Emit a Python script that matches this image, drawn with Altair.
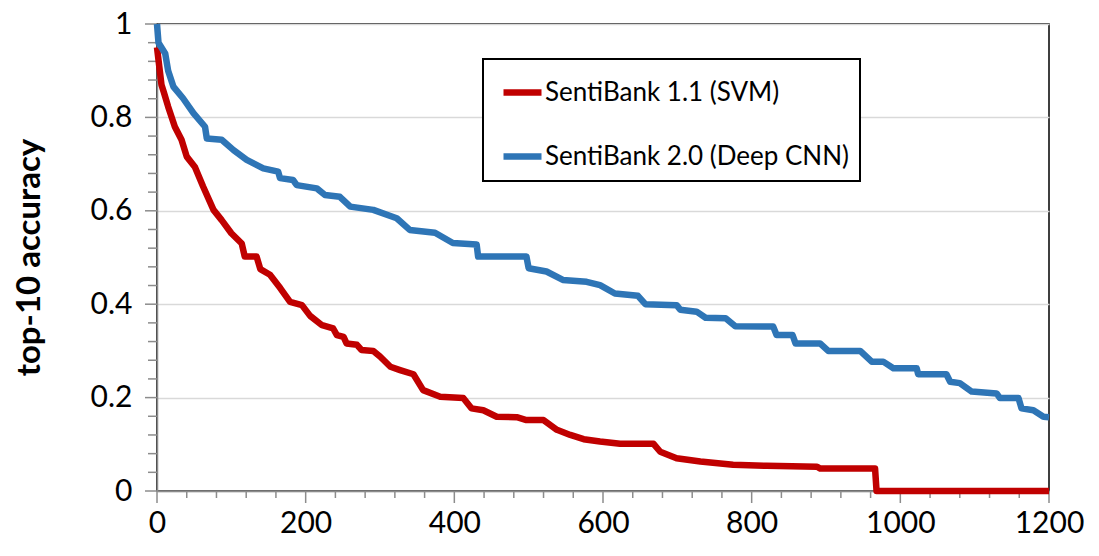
import altair as alt
import pandas as pd

# SentiBank 2.0 (Deep CNN)
blue_x = [0, 2, 11, 15, 22, 35, 49, 64.6, 67, 87, 103, 120.7, 143, 163, 165.5, 183, 188, 215, 226, 246,
          260, 291, 322.5, 340, 374, 398, 430, 432, 497, 500, 524, 546, 578, 596, 616, 647, 657, 699,
          704, 726, 738, 765, 778, 829, 833.5, 855, 859, 892, 903, 946, 961.5, 977, 990.6, 1022, 1024,
          1062, 1067, 1080, 1096, 1129.5, 1134, 1159, 1163, 1179, 1192.5, 1200]
blue_y = [1.0, 0.96, 0.937, 0.90, 0.866, 0.841, 0.809, 0.78, 0.755, 0.752, 0.73, 0.709, 0.691, 0.684, 0.67,
          0.666, 0.655, 0.648, 0.634, 0.63, 0.609, 0.602, 0.584, 0.559, 0.553, 0.531, 0.528, 0.502, 0.502,
          0.477, 0.47, 0.452, 0.448, 0.441, 0.423, 0.418, 0.4, 0.398, 0.388, 0.384, 0.371, 0.37, 0.353,
          0.352, 0.334, 0.334, 0.316, 0.316, 0.3, 0.3, 0.277, 0.277, 0.263, 0.263, 0.25, 0.25, 0.234,
          0.231, 0.213, 0.209, 0.199, 0.199, 0.177, 0.173, 0.159, 0.158]

# SentiBank 1.1 (SVM)
red_x = [0, 3, 6, 9, 15, 24, 33, 40, 51, 62, 76, 87, 100, 114, 118, 134, 139, 152, 166, 179, 195, 206,
         222, 237, 242, 251, 255, 269, 275, 291, 300, 314, 327, 345, 358, 381, 412, 423, 439, 457, 484,
         497, 520, 538, 556, 574, 596, 623, 668, 677, 699, 731, 775, 820, 888, 892, 966, 968, 1200]
red_y = [0.95, 0.91, 0.87, 0.855, 0.823, 0.78, 0.752, 0.716, 0.694, 0.652, 0.602, 0.58, 0.552, 0.53, 0.502,
         0.502, 0.475, 0.463, 0.434, 0.405, 0.398, 0.375, 0.355, 0.348, 0.334, 0.33, 0.316, 0.313, 0.302,
         0.3, 0.288, 0.266, 0.259, 0.25, 0.216, 0.202, 0.199, 0.177, 0.173, 0.159, 0.158, 0.152, 0.152,
         0.131, 0.12, 0.111, 0.106, 0.101, 0.101, 0.084, 0.07, 0.063, 0.056, 0.054, 0.052, 0.048, 0.048,
         0.0, 0.0]

series_names = ["SentiBank 1.1 (SVM)", "SentiBank 2.0 (Deep CNN)"]
series_colors = ["#C00000", "#2E75B6"]

x_major = [0, 200, 400, 600, 800, 1000, 1200]
x_minor = [v for v in range(0, 1201, 40) if v % 200 != 0]
y_major = [0, 0.2, 0.4, 0.6, 0.8, 1.0]
y_minor = [round(i * 0.04, 2) for i in range(26) if i % 5 != 0]

rows = []
for i, (x, y) in enumerate(zip(red_x, red_y)):
    rows.append({"rank": x, "acc": y, "series": series_names[0], "ord": i})
for i, (x, y) in enumerate(zip(blue_x, blue_y)):
    rows.append({"rank": x, "acc": y, "series": series_names[1], "ord": i})
df = pd.DataFrame(rows)

FONT = "Lato"
AX_GRAY = "#8C8C8C"
W, H = 892, 467

x_scale = alt.Scale(domain=[0, 1200], nice=False, zero=False)
y_scale = alt.Scale(domain=[0, 1], nice=False)


def x_tick_layer(values, length):
    return alt.Chart(pd.DataFrame({"v": values})).mark_rule(
        color=AX_GRAY, strokeWidth=1.5, clip=False
    ).encode(
        x=alt.X("v:Q", scale=x_scale),
        y=alt.value(H),
        y2=alt.value(H + length),
    )


def y_tick_layer(values, length):
    return alt.Chart(pd.DataFrame({"v": values})).mark_rule(
        color=AX_GRAY, strokeWidth=1.5, clip=False
    ).encode(
        y=alt.Y("v:Q", scale=y_scale),
        x=alt.value(0),
        x2=alt.value(-length),
    )


lines = alt.Chart(df).mark_line(strokeWidth=6.5, strokeJoin="round", strokeCap="butt").encode(
    x=alt.X("rank:Q", scale=x_scale,
            axis=alt.Axis(values=x_major, orient="bottom", title=None, grid=False, format="d",
                          ticks=False, tickSize=12, labelPadding=41, labelBaseline="alphabetic",
                          labelFont=FONT, labelFontSize=30, labelColor="#000000",
                          domainColor=AX_GRAY, domainWidth=1.5,
                          labelFlush=False, labelOverlap=False)),
    y=alt.Y("acc:Q", scale=y_scale,
            axis=alt.Axis(values=y_major, orient="left", title="top-10 accuracy", format="~g",
                          ticks=False, tickSize=12, grid=True, gridColor="#D9D9D9", gridWidth=1.5,
                          labelPadding=25, labelFont=FONT, labelFontSize=30, labelColor="#000000",
                          domainColor=AX_GRAY, domainWidth=1.5,
                          labelOverlap=False,
                          titleFont=FONT, titleFontSize=33, titleFontWeight="bold", titleColor="#000000",
                          titleX=-128, titleY=233, titleBaseline="middle", titleAngle=270)),
    color=alt.Color("series:N",
                    scale=alt.Scale(domain=series_names, range=series_colors),
                    legend=alt.Legend(title=None, orient="none", legendX=326, legendY=35,
                                      symbolType="stroke", symbolSize=1444, symbolStrokeWidth=6.5,
                                      labelFont=FONT, labelFontSize=26, labelColor="#000000",
                                      labelLimit=500, labelOffset=0, padding=11, rowPadding=28,
                                      symbolOffset=6, strokeColor="#000000", fillColor="#FFFFFF")),
    order="ord:Q",
)

chart = alt.layer(
    x_tick_layer(x_minor, 7),
    x_tick_layer(x_major, 12),
    y_tick_layer(y_minor, 9),
    y_tick_layer(y_major, 12),
    lines,
).properties(
    width=W, height=H,
    autosize=alt.AutoSizeParams(type="none"),
    padding={"left": 149, "top": 16, "right": 40, "bottom": 55},
).configure_view(
    stroke="#000000", strokeWidth=1.5
).configure_legend(
    strokeWidth=2
)

chart.save("out.html", embed_options={"renderer": "svg", "actions": False})
